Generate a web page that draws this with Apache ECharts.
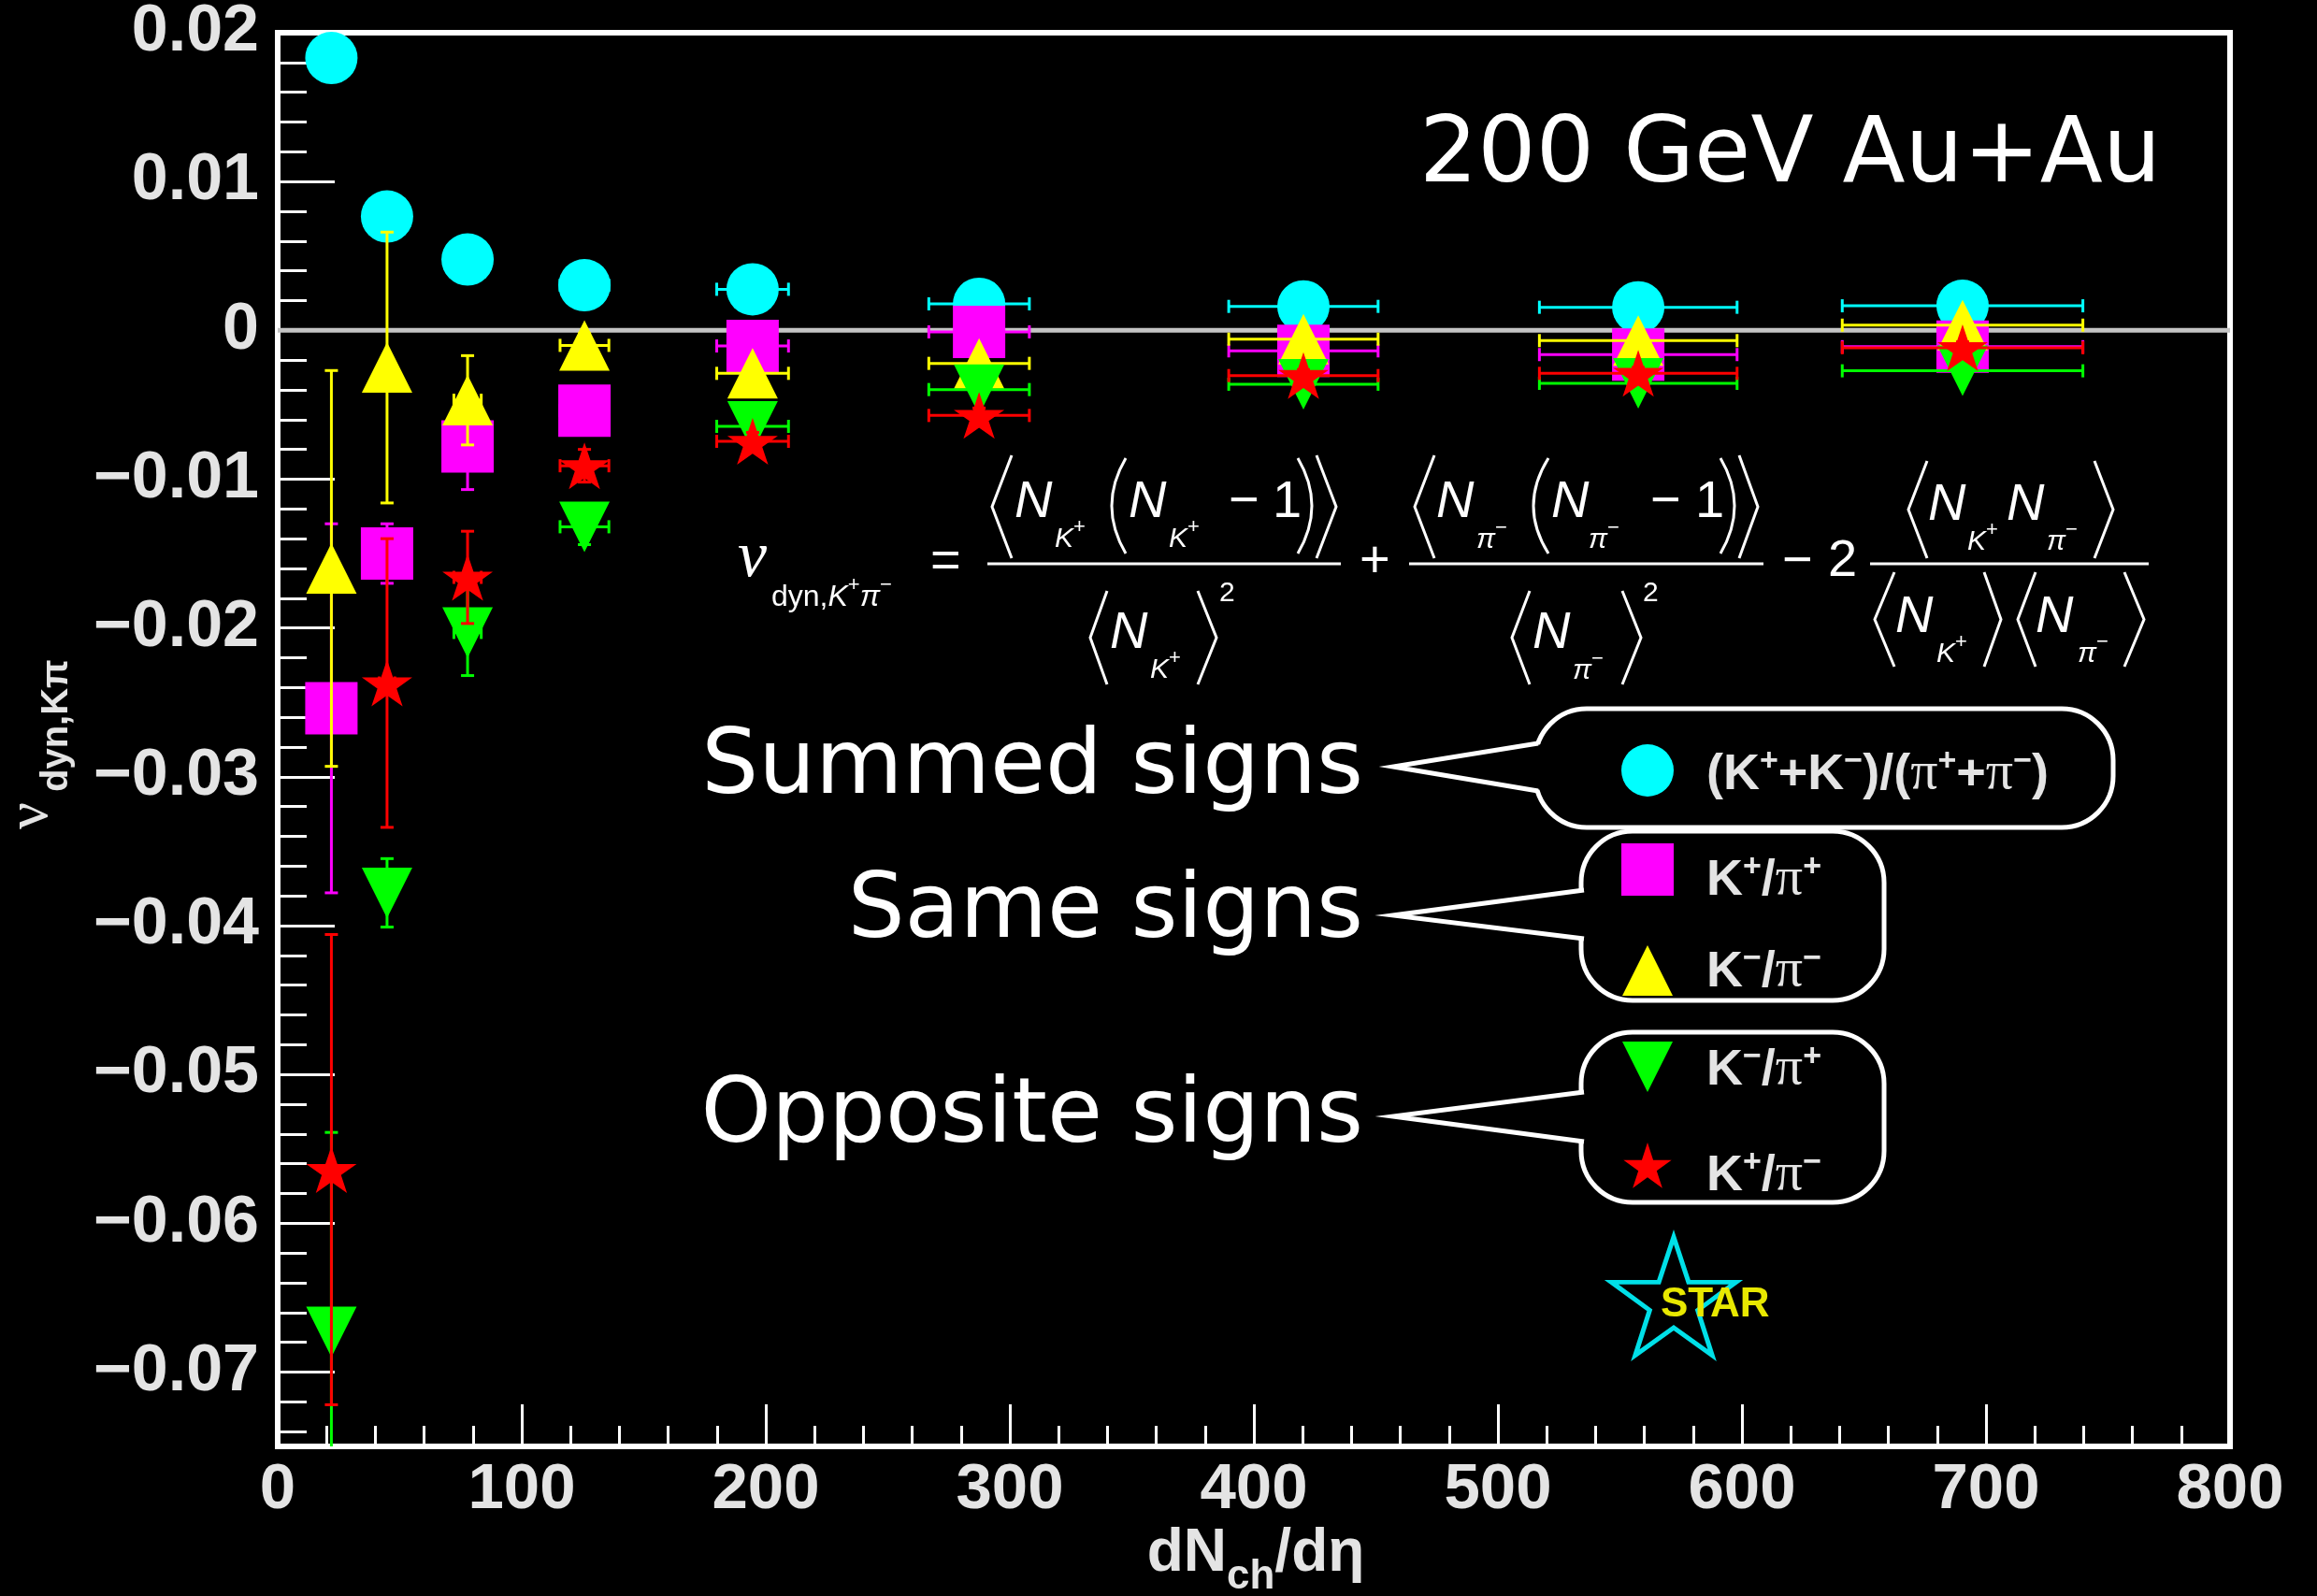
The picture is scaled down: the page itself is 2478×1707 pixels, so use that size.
<!DOCTYPE html>
<html>
<head>
<meta charset="utf-8">
<script src="https://cdn.jsdelivr.net/npm/echarts@6/dist/echarts.min.js"></script>
<style>
  html, body { margin: 0; padding: 0; background: #000; }
  #chart { width: 2478px; height: 1707px; }
</style>
</head>
<body>
<div id="chart"></div>
<script>
// ---- data: dynamical K/pi fluctuations vs. charged-particle multiplicity ----
const dNdEta    = [22, 44.8, 77.8, 125.7, 194.6, 287.4, 420.3, 557.5, 690.4];
const dNdEtaErr = [1.6, 3.2, 5.6, 10, 14.7, 20.6, 30.6, 40.5, 49.3];

const seriesNames = ['(K⁺+K⁻)/(π⁺+π⁻)', 'K⁺/π⁺', 'K⁻/π⁻', 'K⁻/π⁺', 'K⁺/π⁻'];

const nuSummed    = [0.0183, 0.00765, 0.00476, 0.00303, 0.00276, 0.00178, 0.00161, 0.00155, 0.00165];
const nuSummedErr = [0.0008, 0.0006, 0.0005, 0.0004, 0.0003, 0.0003, 0.0003, 0.0003, 0.0003];
const nuKpPip     = [-0.0254, -0.0150, -0.0078, -0.0054, -0.00105, -0.0001, -0.00138, -0.00163, -0.0011];
const nuKpPipErr  = [0.0124, 0.0020, 0.0029, 0.0009, 0.0006, 0.0005, 0.0004, 0.0004, 0.0004];
const nuKmPim     = [-0.0160, -0.0025, -0.0047, -0.00101, -0.00289, -0.00222, -0.00059, -0.00069, 0.00035];
const nuKmPimErr  = [0.0133, 0.0091, 0.0030, 0.0008, 0.0006, 0.0005, 0.0004, 0.0004, 0.0004];
const nuKmPip     = [-0.0673, -0.0378, -0.0203, -0.0132, -0.00645, -0.00398, -0.00362, -0.00356, -0.00272];
const nuKmPipErr  = [0.0134, 0.0023, 0.0029, 0.0012, 0.0006, 0.0005, 0.0004, 0.0004, 0.0004];
const nuKpPim     = [-0.0564, -0.0237, -0.0166, -0.0091, -0.00746, -0.00572, -0.00304, -0.00289, -0.00117];
const nuKpPimErr  = [0.0158, 0.0097, 0.0031, 0.0011, 0.0006, 0.0005, 0.0004, 0.0004, 0.0004];

const zeroLine = [[0, 0], [800, 0]];

// ---- styling ----
const SANS = '"Liberation Sans", Arial, sans-serif';
const SERIF = '"Liberation Serif", "Times New Roman", serif';
const CASUAL = '"DejaVu Sans", sans-serif';
const WHITE = '#ffffff';
const LABEL = '#e4e4e4';

function starPoints(cx, cy, R, r) {
  const pts = [];
  for (let i = 0; i < 10; i++) {
    const rad = i % 2 === 0 ? R : r;
    const a = -Math.PI / 2 + i * Math.PI / 5;
    pts.push([cx + rad * Math.cos(a), cy + rad * Math.sin(a)]);
  }
  return pts;
}
const starPath = 'path://' + starPoints(0, 0, 100, 38.2)
  .map((p, i) => (i ? 'L' : 'M') + p[0].toFixed(2) + ' ' + p[1].toFixed(2)).join(' ') + ' Z';

const markers = [
  { color: '#00ffff', symbol: 'circle',   size: 56,       rotate: 0 },
  { color: '#ff00ff', symbol: 'rect',     size: 56,       rotate: 0 },
  { color: '#ffff00', symbol: 'triangle', size: [54, 54], rotate: 0 },
  { color: '#00ff00', symbol: 'triangle', size: [54, 54], rotate: 180 },
  { color: '#ff0000', symbol: starPath,   size: [54, 50], rotate: 0 }
];
const yValues = [nuSummed, nuKpPip, nuKmPim, nuKmPip, nuKpPim];
const yErrors = [nuSummedErr, nuKpPipErr, nuKmPimErr, nuKmPipErr, nuKpPimErr];

// ---- error bars (x and y) drawn through the axis scales ----
function errorBars(color) {
  return function (params, api) {
    const x = api.value(0), y = api.value(1), ex = api.value(2), ey = api.value(3);
    const c = api.coord([x, y]);
    const t = api.coord([x, y + ey]), b = api.coord([x, y - ey]);
    const l = api.coord([x - ex, y]), r = api.coord([x + ex, y]);
    const cap = 7;
    const st = () => ({ stroke: color, lineWidth: 3 });
    const seg = (x1, y1, x2, y2) => ({ type: 'line', shape: { x1, y1, x2, y2 }, style: st() });
    return {
      type: 'group',
      children: [
        seg(c[0], t[1], c[0], b[1]),
        seg(c[0] - cap, t[1], c[0] + cap, t[1]),
        seg(c[0] - cap, b[1], c[0] + cap, b[1]),
        seg(l[0], c[1], r[0], c[1]),
        seg(l[0], c[1] - cap, l[0], c[1] + cap),
        seg(r[0], c[1] - cap, r[0], c[1] + cap)
      ]
    };
  };
}

const series = [{
  type: 'line', name: 'zero', data: zeroLine, symbol: 'none', z: 1, silent: true,
  lineStyle: { color: '#c4c4c4', width: 5 }
}];
yValues.forEach((ys, k) => {
  const m = markers[k];
  series.push({
    type: 'custom', name: seriesNames[k] + ' err', z: 10 + 2 * k, clip: true, silent: true,
    renderItem: errorBars(m.color),
    encode: { x: 0, y: 1 },
    data: dNdEta.map((x, i) => [x, ys[i], dNdEtaErr[i], yErrors[k][i]])
  });
  series.push({
    type: 'scatter', name: seriesNames[k], z: 11 + 2 * k, silent: true,
    symbol: m.symbol, symbolSize: m.size, symbolRotate: m.rotate,
    itemStyle: { color: m.color, opacity: 1 },
    data: dNdEta.map((x, i) => [x, ys[i]])
  });
});

// ---- text helpers (pieces laid out left to right on a common baseline) ----
const mctx = document.createElement('canvas').getContext('2d');
function font(style, weight, size, family) {
  return [style, weight, size + 'px', family].filter(Boolean).join(' ');
}
function txt(x, base, s, fnt, size, color, align, extra) {
  return Object.assign({
    type: 'text', x: x, y: base - 0.346 * size, z: 60, silent: true,
    style: { text: s, font: fnt, fill: color || WHITE,
      align: align || 'left', verticalAlign: 'middle',
      textAlign: align || 'left', textVerticalAlign: 'middle' }
  }, extra || {});
}
function run(x, base, pieces, color, align) {
  const widths = pieces.map(p => { mctx.font = p.font; return mctx.measureText(p.t).width; });
  const total = widths.reduce((a, b) => a + b, 0);
  let cx = align === 'right' ? x - total : align === 'center' ? x - total / 2 : x;
  return pieces.map((p, i) => {
    const el = txt(cx, base + (p.dy || 0), p.t, p.font, p.size, color);
    cx += widths[i];
    return el;
  });
}
// split a particle label into normal, greek and superscript pieces
function labelPieces(name, size) {
  const out = [];
  for (const ch of name) {
    if (ch === '⁺' || ch === '⁻') {
      out.push({ t: ch === '⁺' ? '+' : '−', font: font('', 'bold', 34, SANS), size: 34, dy: -22 });
    } else if (ch === 'π') {
      out.push({ t: 'π', font: font('', '', size + 4, SERIF), size: size + 4 });
    } else {
      out.push({ t: ch, font: font('', 'bold', size, SANS), size: size });
    }
  }
  return out;
}

const G = [];
const line = (x1, y1, x2, y2, w, color) => ({ type: 'line', z: 60, silent: true,
  shape: { x1, y1, x2, y2 }, style: { stroke: color || WHITE, lineWidth: w || 3 } });
const angL = (xl, xr, yt, yb) => ({ type: 'polyline', z: 60, silent: true,
  shape: { points: [[xr, yt], [xl, (yt + yb) / 2], [xr, yb]] }, style: { stroke: WHITE, lineWidth: 3, fill: null } });
const angR = (xl, xr, yt, yb) => ({ type: 'polyline', z: 60, silent: true,
  shape: { points: [[xl, yt], [xr, (yt + yb) / 2], [xl, yb]] }, style: { stroke: WHITE, lineWidth: 3, fill: null } });
const parL = (xl, xr, yt, yb) => ({ type: 'bezierCurve', z: 60, silent: true,
  shape: { x1: xr, y1: yt, x2: xr, y2: yb, cpx1: 2 * xl - xr, cpy1: (yt + yb) / 2 }, style: { stroke: WHITE, lineWidth: 3, fill: null } });
const parR = (xl, xr, yt, yb) => ({ type: 'bezierCurve', z: 60, silent: true,
  shape: { x1: xl, y1: yt, x2: xl, y2: yb, cpx1: 2 * xr - xl, cpy1: (yt + yb) / 2 }, style: { stroke: WHITE, lineWidth: 3, fill: null } });

// ---- axis titles ----
G.push(txt(31, 887, 'ν', font('', '', 64, SERIF), 0, LABEL, 'left', { rotation: Math.PI / 2, x: 33, y: 887 }));
G.push(txt(61, 847, 'dyn,Kπ', font('', 'bold', 40, SANS), 0, LABEL, 'left', { rotation: Math.PI / 2, x: 61, y: 847 }));
G.push(...run(1343, 1685, [
  { t: 'dN', font: font('', 'bold', 64, SANS), size: 64 },
  { t: 'ch', font: font('', 'bold', 44, SANS), size: 44, dy: 17 },
  { t: '/dη', font: font('', 'bold', 64, SANS), size: 64 }
], LABEL, 'center'));

// ---- headline ----
G.push(txt(2311, 202, '200 GeV Au+Au', font('', '', 98, CASUAL), 98, WHITE, 'right'));

// ---- formula for nu_dyn ----
const NF = font('italic', '', 56, SANS), RF = font('', '', 56, SANS);
const SF = font('italic', '', 30, SANS), PF = font('', '', 22, SANS);
const N = (x, b) => txt(x, b, 'N', NF, 56);
const subK = (x, b) => run(x, b, [{ t: 'K', font: SF, size: 30 }, { t: '+', font: PF, size: 22, dy: -15 }]);
const subP = (x, b) => run(x, b, [{ t: 'π', font: SF, size: 30 }, { t: '−', font: PF, size: 22, dy: -15 }]);

G.push(txt(789, 622, 'ν', font('italic', '', 70, SERIF), 70));
G.push(...run(825, 650, [
  { t: 'dyn,', font: font('', '', 32, SANS), size: 32 },
  { t: 'K', font: font('italic', '', 32, SANS), size: 32 },
  { t: '+', font: PF, size: 22, dy: -16 },
  { t: 'π', font: font('italic', '', 32, SANS), size: 32 },
  { t: '−', font: PF, size: 22, dy: -16 }
]));
G.push(txt(995, 621, '=', RF, 56));
// first term
G.push(line(1056, 603, 1434, 603));
G.push(angL(1061, 1082, 487, 597), N(1085, 557), ...subK(1128, 587), parL(1189, 1204, 490, 592),
       N(1207, 557), ...subK(1250, 587), txt(1314, 557, '−', RF, 56), txt(1361, 557, '1', RF, 56),
       parR(1388, 1403, 490, 592), angR(1408, 1429, 487, 597));
G.push(angL(1166, 1184, 632, 732), N(1187, 697), ...subK(1230, 727), angR(1281, 1301, 632, 732),
       txt(1304, 645, '2', font('', '', 30, SANS), 30));
G.push(txt(1454, 621, '+', RF, 56));
// second term
G.push(line(1507, 603, 1886, 603));
G.push(angL(1513, 1534, 487, 597), N(1536, 557), ...subP(1579, 588), parL(1640, 1656, 490, 592),
       N(1659, 557), ...subP(1699, 588), txt(1765, 557, '−', RF, 56), txt(1813, 557, '1', RF, 56),
       parR(1840, 1855, 490, 592), angR(1860, 1880, 487, 597));
G.push(angL(1617, 1636, 632, 732), N(1639, 697), ...subP(1682, 728), angR(1735, 1755, 632, 732),
       txt(1757, 645, '2', font('', '', 30, SANS), 30));
G.push(txt(1906, 621, '−', RF, 56), txt(1955, 620, '2', RF, 56));
// third term
G.push(line(2000, 603, 2298, 603));
G.push(angL(2041, 2061, 493, 597), N(2062, 560), ...subK(2104, 590), N(2146, 560), ...subP(2189, 590),
       angR(2240, 2260, 493, 597));
G.push(angL(2005, 2026, 612, 713), N(2027, 680), ...subK(2071, 710), angR(2122, 2140, 612, 713),
       angL(2158, 2177, 612, 713), N(2177, 680), ...subP(2222, 710), angR(2272, 2293, 612, 713));

// ---- grouping captions with speech balloons ----
const CAP = font('', '', 96, CASUAL);
G.push(txt(1458, 856, 'Summed signs', CAP, 96, WHITE, 'right'));
G.push(txt(1458, 1010, 'Same signs', CAP, 96, WHITE, 'right'));
G.push(txt(1458, 1229, 'Opposite signs', CAP, 96, WHITE, 'right'));

function balloon(x, y, w, h, r, tip, aTop, aBot) {
  return [
    { type: 'rect', z: 55, silent: true, shape: { x, y, width: w, height: h, r },
      style: { fill: '#000', stroke: WHITE, lineWidth: 5 } },
    { type: 'polygon', z: 56, silent: true,
      shape: { points: [tip, [x + 14, aTop], [x + 14, aBot]] }, style: { fill: '#000' } },
    { type: 'polyline', z: 57, silent: true,
      shape: { points: [[x + 3, aTop], tip, [x + 3, aBot]] },
      style: { stroke: WHITE, lineWidth: 5, fill: null, lineJoin: 'miter' } }
  ];
}
G.push(...balloon(1642, 758, 618, 127, 55, [1490, 820], 795, 846));
G.push(...balloon(1691, 889, 324, 181, 55, [1490, 979], 952, 1004));
G.push(...balloon(1691, 1104, 324, 182, 55, [1490, 1194], 1168, 1221));

// legend keys
const keyX = 1762;
const keyY = [824, 930, 1038, 1141, 1246];
G.push({ type: 'circle', z: 60, silent: true, shape: { cx: keyX, cy: keyY[0], r: 28 }, style: { fill: markers[0].color } });
G.push({ type: 'rect', z: 60, silent: true, shape: { x: keyX - 28, y: keyY[1] - 28, width: 56, height: 56 }, style: { fill: markers[1].color } });
G.push({ type: 'polygon', z: 60, silent: true, shape: { points: [[keyX, keyY[2] - 27], [keyX + 27, keyY[2] + 27], [keyX - 27, keyY[2] + 27]] }, style: { fill: markers[2].color } });
G.push({ type: 'polygon', z: 60, silent: true, shape: { points: [[keyX - 27, keyY[3] - 27], [keyX + 27, keyY[3] - 27], [keyX, keyY[3] + 27]] }, style: { fill: markers[3].color } });
G.push({ type: 'polygon', z: 60, silent: true, shape: { points: starPoints(keyX, keyY[4] + 3, 27, 10.3) }, style: { fill: markers[4].color } });

const labelBase = [848, 961, 1059, 1164, 1277];
seriesNames.forEach((name, k) => {
  G.push(...run(1825, labelBase[k], labelPieces(name, 54), LABEL));
});

// ---- collaboration logo ----
G.push({ type: 'polygon', z: 60, silent: true, shape: { points: starPoints(1790, 1393, 70, 27) },
  style: { fill: null, stroke: '#00e0e8', lineWidth: 5, lineJoin: 'miter' } });
G.push(txt(1776, 1411, 'STAR', font('', 'bold', 44, SANS), 44, '#e8e800'));

// ---- chart ----
const chart = echarts.init(document.getElementById('chart'), null, { renderer: 'canvas', width: 2478, height: 1707 });
chart.setOption({
  backgroundColor: '#000',
  animation: false,
  grid: { left: 297, right: 93, top: 35, bottom: 160, containLabel: false, outerBoundsMode: 'none',
          show: true, borderColor: WHITE, borderWidth: 6, backgroundColor: 'transparent' },
  xAxis: {
    type: 'value', min: 0, max: 800, interval: 100,
    axisLine: { show: true, onZero: false, lineStyle: { color: WHITE, width: 6 } },
    axisTick: { show: true, inside: true, length: 45, lineStyle: { color: WHITE, width: 3 } },
    minorTick: { show: true, splitNumber: 5, length: 22, lineStyle: { color: WHITE, width: 3 } },
    splitLine: { show: false }, minorSplitLine: { show: false },
    axisLabel: { show: true, margin: 12, color: LABEL, fontSize: 69, fontWeight: 'bold', fontFamily: SANS,
                 showMinLabel: true, showMaxLabel: true }
  },
  yAxis: {
    type: 'value', min: -0.075, max: 0.02, splitNumber: 10,
    axisLine: { show: true, onZero: false, lineStyle: { color: WHITE, width: 6 } },
    axisTick: { show: true, inside: true, length: 61, lineStyle: { color: WHITE, width: 3 } },
    minorTick: { show: true, splitNumber: 5, length: 31, lineStyle: { color: WHITE, width: 3 } },
    splitLine: { show: false }, minorSplitLine: { show: false },
    axisLabel: {
      show: true, margin: 20, color: LABEL, fontSize: 70, fontWeight: 'bold', fontFamily: SANS,
      formatter: function (v) {
        const k = Math.round(v * 100);
        if (Math.abs(v * 100 - k) > 1e-6) return '';
        if (k === 0) return '0';
        return (k < 0 ? '\u2212' : '') + (Math.abs(k) / 100).toFixed(2);
      }
    }
  },
  series: series,
  graphic: { elements: G }
});
</script>
</body>
</html>
